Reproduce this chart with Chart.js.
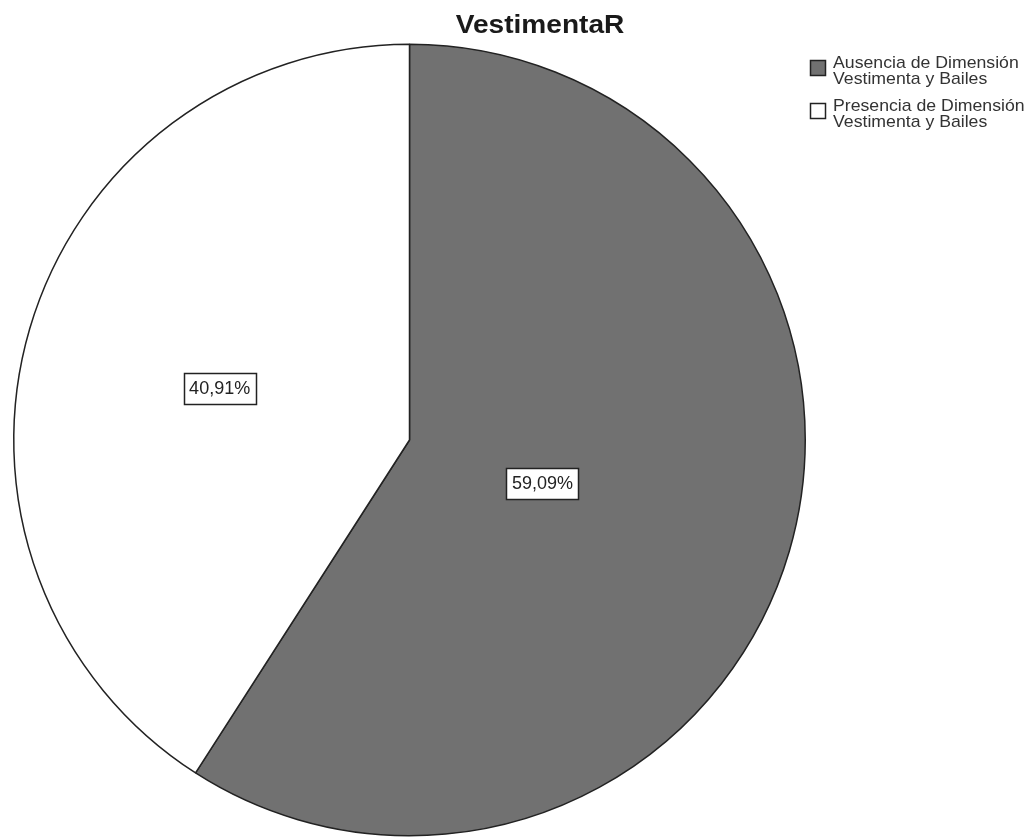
<!DOCTYPE html>
<html>
<head>
<meta charset="utf-8">
<script src="https://cdn.jsdelivr.net/npm/chart.js@4.4.1/dist/chart.umd.min.js"></script>
<style>
html,body{margin:0;padding:0;background:#fff;}
#wrap{position:relative;width:1035px;height:838px;}
</style>
</head>
<body>
<div id="wrap"><canvas id="c" width="1035" height="838"></canvas></div>
<script>
const chartTitle = "VestimentaR";
const categories = [
  ["Ausencia de Dimensión", "Vestimenta y Bailes"],
  ["Presencia de Dimensión", "Vestimenta y Bailes"]
];
const percentages = [59.09, 40.91];
const percentLabels = ["59,09%", "40,91%"];
const sliceColors = ["#717171", "#ffffff"];

function stretchedText(ctx, txt, x, y, sx) {
  ctx.save();
  ctx.translate(x, y);
  ctx.scale(sx, 1);
  ctx.fillText(txt, 0, 0);
  ctx.restore();
}

const labelPlugin = {
  id: 'boxLabels',
  afterDatasetsDraw(chart, args, opts) {
    const ctx = chart.ctx;
    const meta = chart.getDatasetMeta(0);
    ctx.save();
    ctx.font = '18px "Liberation Sans", Arial, sans-serif';
    ctx.textAlign = 'center';
    ctx.textBaseline = 'middle';
    meta.data.forEach((arc, i) => {
      const p = arc.getProps(['x','y','startAngle','endAngle','outerRadius'], true);
      const mid = (p.startAngle + p.endAngle) / 2;
      const r = p.outerRadius * opts.fractions[i];
      const x = p.x + Math.cos(mid) * r;
      const y = p.y + Math.sin(mid) * r + opts.shiftY;
      const txt = percentLabels[i];
      const w = Math.round(ctx.measureText(txt).width + 11);
      const h = 31;
      const bx = Math.round(x - w/2) + 0.5, by = Math.round(y - h/2) + 0.5;
      ctx.fillStyle = '#fff';
      ctx.fillRect(bx, by, w, h);
      ctx.strokeStyle = '#222';
      ctx.lineWidth = 1.5;
      ctx.strokeRect(bx, by, w, h);
      ctx.fillStyle = '#222';
      ctx.fillText(txt, x, y + 1);
    });
    ctx.restore();
  }
};

const titleLegendPlugin = {
  id: 'titleLegend',
  afterDraw(chart) {
    const ctx = chart.ctx;
    ctx.save();
    ctx.fillStyle = '#1a1a1a';
    ctx.font = 'bold 26px "Liberation Sans", Arial, sans-serif';
    ctx.textAlign = 'center';
    ctx.textBaseline = 'alphabetic';
    stretchedText(ctx, chartTitle, 540, 33, 1.08);

    ctx.font = '17px "Liberation Sans", Arial, sans-serif';
    ctx.textAlign = 'left';
    const startY = 60;
    const itemGap = 43;
    categories.forEach((lines, i) => {
      const y = startY + i * itemGap;
      ctx.fillStyle = sliceColors[i];
      ctx.fillRect(810.5, y + 0.5, 15, 15);
      ctx.strokeStyle = '#222';
      ctx.lineWidth = 1.5;
      ctx.strokeRect(810.5, y + 0.5, 15, 15);
      ctx.fillStyle = '#333';
      lines.forEach((ln, j) => {
        stretchedText(ctx, ln, 833, y + 8 + j * 16, 1.04);
      });
    });
    ctx.restore();
  }
};

new Chart(document.getElementById('c'), {
  type: 'pie',
  data: {
    labels: categories.map(l => l.join(' ')),
    datasets: [{
      data: percentages,
      backgroundColor: sliceColors,
      borderColor: '#222',
      borderWidth: 1.5
    }]
  },
  options: {
    responsive: false,
    animation: false,
    rotation: 0,
    layout: { padding: { left: 13, right: 229, top: 43, bottom: 1 } },
    plugins: {
      legend: { display: false },
      tooltip: { enabled: false },
      title: { display: false },
      boxLabels: { fractions: [0.35, 0.5], shiftY: 4 }
    }
  },
  plugins: [labelPlugin, titleLegendPlugin]
});
</script>
</body>
</html>
